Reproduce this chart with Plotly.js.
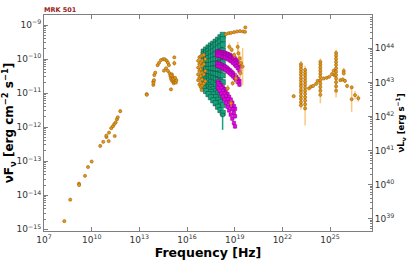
<!DOCTYPE html>
<html>
<head>
<meta charset="utf-8">
<script src="https://cdn.plot.ly/plotly-3.0.1.min.js"></script>
<style>html,body{margin:0;padding:0;background:#fff;}#chart{width:408px;height:262px;}</style>
</head>
<body>
<div id="chart"></div>
<script>
// ---------- DATA (log10 values) ----------
// Orange archival points: log10(nu/Hz), log10(nuFnu), error (dex)
const orangeLogNu = [
  8.28,8.65,9.20,9.21,9.58,9.77,10.00,10.54,10.73,10.93,10.92,11.07,11.09,11.45,11.23,11.34,11.42,11.51,11.59,11.64,11.80,
  13.46,13.47,13.88,13.88,13.89,13.92,13.94,14.00,14.15,14.24,14.36,14.51,14.61,14.72,14.80,14.86,14.68,14.55,14.80,14.91,14.95,14.99,15.03,15.10,15.16,15.20,15.24,15.30,14.99,15.20,15.20,15.33,15.10,15.05,15.15,15.25,15.00,
  16.70,16.70,16.70,16.70,16.78,16.78,16.78,16.78,16.78,16.86,16.86,16.86,16.86,16.86,16.86,16.95,16.95,16.95,16.95,16.95,16.95,17.05,17.05,17.05,17.05,17.15,17.15,17.15,16.92,
  18.45,18.62,18.77,18.96,19.15,19.33,19.52,19.65,19.67,
  18.66,18.81,18.97,19.19,19.23,19.31,19.40,19.50,19.35,18.56,18.77,18.87,19.08,
  22.71,
  23.17,23.17,23.17,23.17,23.17,23.17,23.17,23.17,23.17,23.17,23.17,23.17,23.17,23.17,23.17,
  23.43,23.43,23.43,23.43,23.43,23.43,23.43,23.43,23.43,23.43,23.43,23.43,23.43,
  23.68,23.80,23.93,24.12,24.22,
  24.39,24.39,24.39,24.39,24.39,24.39,24.39,24.39,24.39,24.39,24.39,
  24.60,24.79,24.95,25.12,25.23,25.27,
  25.38,25.38,25.38,25.38,25.38,25.38,25.38,25.38,25.38,25.38,25.38,25.38,
  25.65,25.86,25.86,25.80,25.94,26.07,26.36,26.36,26.57,26.78
];
const orangeLogF = [
  -14.76,-14.13,-13.66,-13.70,-13.43,-13.17,-13.01,-12.55,-12.43,-12.29,-12.25,-12.41,-12.16,-12.26,-12.03,-11.97,-11.91,-11.86,-11.77,-11.71,-11.53,
  -11.03,-11.05,-10.76,-10.66,-10.70,-10.62,-10.47,-10.40,-10.18,-10.11,-10.03,-10.00,-10.01,-10.05,-10.11,-10.18,-10.27,-10.34,-10.35,-10.42,-10.50,-10.57,-10.62,-10.66,-10.71,-10.67,-10.62,-10.69,-10.89,-9.95,-10.12,-10.62,-10.53,-10.45,-10.58,-10.55,-10.48,
  -10.05,-10.25,-10.45,-10.62,-9.95,-10.15,-10.35,-10.55,-10.75,-9.92,-10.10,-10.30,-10.50,-10.70,-10.82,-9.90,-10.05,-10.20,-10.40,-10.60,-10.78,-9.88,-10.15,-10.45,-10.72,-10.00,-10.35,-10.65,-10.91,
  -9.27,-9.24,-9.23,-9.21,-9.19,-9.18,-9.19,-9.20,-9.07,
  -9.64,-9.73,-9.88,-9.64,-9.83,-9.98,-10.12,-10.22,-10.42,-10.86,-11.30,-10.71,-10.57,
  -11.09,
  -10.15,-10.22,-10.30,-10.38,-10.46,-10.55,-10.63,-10.72,-10.80,-10.90,-10.98,-11.08,-11.17,-11.27,-11.36,
  -10.32,-10.40,-10.48,-10.57,-10.66,-10.75,-10.84,-10.93,-11.02,-11.12,-11.22,-11.33,-11.45,
  -10.86,-10.81,-10.79,-10.73,-10.64,
  -10.08,-10.16,-10.25,-10.34,-10.43,-10.52,-10.62,-10.72,-10.82,-10.93,-11.05,
  -10.57,-10.55,-10.52,-10.44,-10.34,-10.47,
  -9.82,-9.90,-9.99,-10.08,-10.17,-10.27,-10.37,-10.47,-10.57,-10.68,-10.80,-10.93,
  -10.62,-10.35,-10.42,-10.60,-10.64,-10.79,-11.18,-10.83,-11.06,-11.15
];
const orangeErr = [
  0.03,0.03,0.04,0.03,0.03,0.04,0.03,0.05,0.04,0.04,0.04,0.03,0.04,0.03,0.03,0.03,0.03,0.03,0.03,0.03,0.06,
  0.03,0.02,0.03,0.03,0.03,0.03,0.03,0.03,0.03,0.03,0.03,0.03,0.03,0.03,0.03,0.03,0.03,0.03,0.03,0.03,0.03,0.03,0.03,0.03,0.03,0.03,0.03,0.03,0.03,0.03,0.08,0.03,0.03,0.03,0.03,0.03,0.03,
  0.04,0.04,0.04,0.04,0.04,0.04,0.04,0.04,0.04,0.04,0.04,0.04,0.04,0.04,0.04,0.04,0.04,0.04,0.04,0.04,0.04,0.04,0.04,0.04,0.04,0.04,0.04,0.04,0.04,
  0.02,0.02,0.02,0.02,0.02,0.02,0.02,0.02,0.03,
  0.10,0.08,0.08,0.15,0.15,0.20,0.20,0.55,0.15,0.10,0.10,0.08,0.15,
  0.04,
  0.10,0.10,0.12,0.12,0.12,0.12,0.12,0.12,0.12,0.12,0.12,0.12,0.12,0.12,0.12,
  0.12,0.12,0.12,0.12,0.12,0.12,0.12,0.12,0.12,0.12,0.12,0.15,0.50,
  0.04,0.04,0.04,0.04,0.05,
  0.10,0.10,0.10,0.10,0.10,0.10,0.10,0.10,0.10,0.12,0.25,
  0.04,0.04,0.04,0.05,0.05,0.05,
  0.10,0.10,0.10,0.10,0.10,0.10,0.10,0.10,0.10,0.12,0.15,0.20,
  0.05,0.10,0.06,0.06,0.06,0.05,0.37,0.05,0.12,0.10
];

// Teal X-ray spectra: common frequency grid and one flux row per spectrum
const tealLogNu = [17.05,17.20,17.35,17.50,17.65,17.80,17.95,18.10,18.25];
const tealLogF = [
  [-9.78,-9.72,-9.66,-9.60,-9.55,-9.49,-9.43,-9.36,-9.29],
  [-9.86,-9.81,-9.76,-9.70,-9.65,-9.59,-9.54,-9.48,-9.42],
  [-9.95,-9.90,-9.86,-9.81,-9.77,-9.72,-9.67,-9.63,-9.58],
  [-10.04,-10.00,-9.97,-9.93,-9.90,-9.86,-9.82,-9.79,-9.75],
  [-10.12,-10.10,-10.07,-10.05,-10.02,-10.00,-9.97,-9.95,-9.92],
  [-10.20,-10.19,-10.18,-10.17,-10.15,-10.14,-10.13,-10.11,-10.10],
  [-10.29,-10.29,-10.29,-10.29,-10.28,-10.28,-10.28,-10.28,-10.28],
  [-10.38,-10.39,-10.40,-10.42,-10.43,-10.44,-10.45,-10.47,-10.48],
  [-10.47,-10.50,-10.52,-10.55,-10.57,-10.60,-10.62,-10.65,-10.68],
  [-10.56,-10.60,-10.64,-10.68,-10.72,-10.77,-10.81,-10.85,-10.90],
  [-10.66,-10.72,-10.78,-10.83,-10.89,-10.95,-11.00,-11.06,-11.12],
  [-10.76,-10.83,-10.90,-10.97,-11.04,-11.12,-11.20,-11.27,-11.35],
  [-10.86,-10.94,-11.03,-11.12,-11.21,-11.30,-11.40,-11.50,-11.58]
];
const tealTailLogNu = [18.24];
const tealTailLogF = [-11.64];
const tealTailErrUp = [0.35];
const tealTailErrDown = [0.44];

// Magenta hard X-ray spectra
const magentaUpperLogNu = [17.90,18.00,18.10,18.20,18.30,18.40,18.50,18.60,18.70,18.80,18.90,19.00,19.10,19.20,19.30];
const magentaUpperLogF = [
  [-9.78,-9.78,-9.79,-9.80,-9.81,-9.82,-9.84,-9.86,-9.88,-9.91,-9.94,-9.98,-10.03,-10.09,-10.16],
  [-9.84,-9.84,-9.85,-9.86,-9.87,-9.89,-9.91,-9.93,-9.96,-9.99,-10.02,-10.06,-10.11,-10.17,-10.24],
  [-9.90,-9.90,-9.91,-9.93,-9.94,-9.96,-9.98,-10.01,-10.04,-10.07,-10.11,-10.16,-10.21,-10.27,-10.34],
  [-10.12,-10.13,-10.15,-10.17,-10.20,-10.22,-10.25,-10.29,-10.33,-10.37,-10.42,-10.47,-10.52,-10.58,-10.64],
  [-10.20,-10.21,-10.23,-10.25,-10.28,-10.31,-10.34,-10.38,-10.42,-10.46,-10.51,-10.56,-10.62,-10.68,-10.75]
];
const magentaLowerLogNu = [17.95,18.05,18.15,18.25,18.35,18.45,18.55,18.65,18.75,18.85,18.95,19.02];
const magentaLowerLogF = [
  [-10.66,-10.71,-10.77,-10.83,-10.89,-10.96,-11.03,-11.11,-11.19,-11.28,-11.38,-11.46],
  [-10.72,-10.78,-10.85,-10.93,-11.01,-11.09,-11.18,-11.27,-11.37,-11.47,-11.58,-11.68],
  [-10.85,-10.93,-11.01,-11.10,-11.19,-11.29,-11.40,-11.51,-11.63,-11.75,-11.88,-11.98]
];

const xTickExp = [7,10,13,16,19,22,25];
const yTickExp = [-15,-14,-13,-12,-11,-10,-9];
const y2TickExp = [39,40,41,42,43,44];

// ---------- BUILD ----------
const p10 = v => Math.pow(10, v);
const sup = e => '10<sup>' + String(e).replace('-', '\u2212') + '</sup>';
const font = 'DejaVu Sans, Arial, sans-serif';

function flat(grid, rows) {
  const xs = [], ys = [];
  rows.forEach(r => r.forEach((v, i) => { xs.push(p10(grid[i])); ys.push(p10(v)); }));
  return {xs, ys};
}

const traces = [];
const teal = flat(tealLogNu, tealLogF);
traces.push({
  x: teal.xs, y: teal.ys, type: 'scatter', mode: 'markers', hoverinfo: 'skip',
  marker: {symbol: 'square', size: 5.2, color: '#17a57f', line: {color: '#0a4a39', width: 0.5}},
  error_y: {type: 'percent', value: 6, color: 'rgba(23,165,127,0.7)', thickness: 1, width: 0}
});
traces.push({
  x: tealTailLogNu.map(p10), y: tealTailLogF.map(p10), type: 'scatter', mode: 'markers', hoverinfo: 'skip',
  marker: {symbol: 'square', size: 3.5, color: '#17a57f', line: {color: '#0a4a39', width: 0.5}},
  error_y: {type: 'data', symmetric: false,
    array: tealTailLogF.map((v, i) => p10(v + tealTailErrUp[i]) - p10(v)),
    arrayminus: tealTailLogF.map((v, i) => p10(v) - p10(v - tealTailErrDown[i])),
    color: '#17a57f', thickness: 1.5, width: 0}
});
const magU = flat(magentaUpperLogNu, magentaUpperLogF);
const magL = flat(magentaLowerLogNu, magentaLowerLogF);
[magU, magL].forEach(m => traces.push({
  x: m.xs, y: m.ys, type: 'scatter', mode: 'markers', hoverinfo: 'skip',
  marker: {symbol: 'square', size: 3.4, color: '#ee00ee', line: {color: '#7a007a', width: 0.5}},
  error_y: {type: 'percent', value: 14, color: 'rgba(238,0,238,0.8)', thickness: 1, width: 0}
}));
traces.push({
  x: orangeLogNu.map(p10), y: orangeLogF.map(p10), type: 'scatter', mode: 'markers', hoverinfo: 'skip',
  marker: {symbol: 'circle', size: 3.2, color: '#e8950f', line: {color: '#8a5a10', width: 0.5}},
  error_y: {type: 'data', symmetric: false,
    array: orangeLogF.map((v, i) => p10(v + orangeErr[i]) - p10(v)),
    arrayminus: orangeLogF.map((v, i) => p10(v) - p10(v - orangeErr[i])),
    color: 'rgba(245,165,50,0.6)', thickness: 1.5, width: 0}
});
traces.push({x: [null], y: [null], yaxis: 'y2', type: 'scatter', mode: 'markers', hoverinfo: 'skip', showlegend: false});

const axisCommon = {
  type: 'log', showgrid: false, zeroline: false, showline: true,
  linecolor: '#7f7f7f', linewidth: 1, ticks: 'inside', tickcolor: '#7f7f7f',
  ticklen: 4, tickwidth: 1, tickfont: {family: font, size: 9, color: '#333'}
};

const layout = {
  width: 408, height: 262, showlegend: false,
  paper_bgcolor: '#fff', plot_bgcolor: '#fff',
  margin: {l: 44, r: 36, t: 15, b: 31},
  title: {text: '<b>MRK 501</b>', font: {family: font, size: 6.5, color: '#9a1c1c'},
    xref: 'paper', x: 0, xanchor: 'left', yref: 'container', y: 1 - 9.5 / 262, yanchor: 'middle'},
  xaxis: Object.assign({}, axisCommon, {
    range: [7, 27.64], mirror: 'ticks', tickmode: 'array',
    tickvals: xTickExp.map(p10), ticktext: xTickExp.map(sup),
    title: {text: '<b>Frequency [Hz]</b>', font: {family: font, size: 12.5, color: '#000'}, standoff: 4}
  }),
  yaxis: Object.assign({}, axisCommon, {
    range: [-15.05, -8.706], tickmode: 'array',
    tickvals: yTickExp.map(p10), ticktext: yTickExp.map(sup),
    minor: {dtick: 'D1', ticks: 'inside', ticklen: 2, tickcolor: '#7f7f7f', showgrid: false},
    title: {text: '<b>\u03bdF<sub>\u03bd</sub> [erg cm<sup>\u22122</sup> s<sup>\u22121</sup>]</b>', font: {family: font, size: 12, color: '#000'}, standoff: 6}
  }),
  yaxis2: Object.assign({}, axisCommon, {
    range: [38.634, 44.978], overlaying: 'y', side: 'right', anchor: 'x', tickmode: 'array',
    tickvals: y2TickExp.map(p10), ticktext: y2TickExp.map(sup),
    minor: {dtick: 'D1', ticks: 'inside', ticklen: 2, tickcolor: '#7f7f7f', showgrid: false},
    title: {text: '<b>\u03bdL<sub>\u03bd</sub> [erg s<sup>\u22121</sup>]</b>', font: {family: font, size: 8.5, color: '#000'}, standoff: 2}
  })
};

Plotly.newPlot('chart', traces, layout, {staticPlot: true, displayModeBar: false});
</script>
</body>
</html>
